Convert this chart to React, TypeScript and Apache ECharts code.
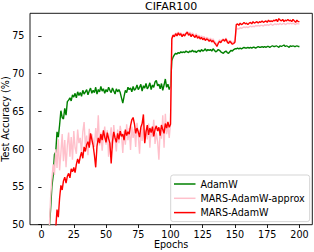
import React, { useEffect, useRef } from "react";
import * as echarts from "echarts";

const epochs: number[] = Array.from({ length: 200 }, (_, i) => i + 1);

const adamw: number[] = [
  22.0, 33.0, 40.0, 44.5, 47.5, 49.5, 52.0, 55.0, 56.5, 59.3,
  59.6, 62.3, 61.6, 63.2, 65.1, 64.2, 64.0, 65.4, 64.5, 66.3,
  66.5, 66.8, 66.4, 67.2, 66.9, 67.4, 66.8, 67.6, 67.1, 67.5,
  67.0, 67.8, 67.3, 67.6, 67.9, 67.2, 67.7, 68.1, 67.4, 67.8,
  67.5, 68.2, 67.3, 67.9, 67.6, 68.3, 67.7, 68.0, 67.4, 67.9,
  67.6, 68.2, 67.8, 67.5, 68.1, 67.7, 67.3, 68.0, 67.6, 67.9,
  67.5, 66.8, 66.1, 67.0, 67.8, 67.5, 68.2, 67.9, 68.1, 67.6,
  68.3, 67.8, 68.0, 68.5, 67.9, 68.2, 68.6, 67.7, 68.4, 68.1,
  68.7, 68.0, 68.3, 68.8, 67.9, 68.5, 68.2, 68.9, 69.1, 68.4,
  68.6, 68.0, 68.7, 67.8, 68.5, 69.3, 68.2, 68.6, 67.9, 68.3,
  71.7, 72.2, 72.5, 72.7, 72.6, 72.8, 72.7, 72.9, 72.8, 72.9,
  72.8, 73.0, 72.9, 72.8, 73.0, 72.9, 73.1, 72.9, 73.0, 72.8,
  73.0, 73.1, 72.9, 73.2, 73.0, 73.1, 73.3, 73.0, 73.2, 73.1,
  73.2, 73.0, 73.3, 73.1, 72.9, 73.0, 73.2, 73.1, 72.9, 72.8,
  72.7, 72.9, 73.0, 72.8, 72.7, 72.9, 73.1, 73.0, 73.2, 73.3,
  73.3, 73.4, 73.3, 73.4, 73.3, 73.4, 73.5, 73.4, 73.4, 73.5,
  73.4, 73.5, 73.4, 73.5, 73.5, 73.4, 73.5, 73.6, 73.5, 73.5,
  73.6, 73.5, 73.6, 73.5, 73.6, 73.6, 73.5, 73.6, 73.7, 73.6,
  73.6, 73.7, 73.6, 73.5, 73.7, 73.6, 73.7, 73.8, 73.6, 73.7,
  73.6, 73.5, 73.7, 73.6, 73.7, 73.6, 73.6, 73.7, 73.6, 73.6,
];

const marsApprox: number[] = [
  25.0, 33.0, 39.0, 43.0, 46.5, 49.5, 53.5, 56.0, 58.0, 56.6,
  60.0, 57.5, 61.3, 57.2, 59.5, 62.0, 58.4, 61.2, 57.6, 60.5,
  62.2, 59.0, 61.6, 58.6, 62.4, 60.2, 59.4, 62.6, 60.8, 61.5,
  59.6, 62.3, 63.6, 60.4, 61.8, 59.2, 62.7, 60.6, 62.0, 61.2,
  60.3, 62.8, 61.0, 64.5, 60.5, 62.2, 59.8, 61.7, 63.0, 60.6,
  62.5, 59.0, 61.6, 62.9, 60.1, 63.2, 61.4, 59.7, 62.6, 60.8,
  63.1, 61.9, 59.5, 62.4, 60.6, 63.3, 61.2, 62.8, 59.9, 63.0,
  61.5, 62.7, 60.3, 63.5, 61.8, 59.4, 62.9, 61.1, 63.7, 60.9,
  62.5, 61.3, 63.4, 60.2, 62.7, 61.6, 63.9, 60.7, 62.2, 61.0,
  58.6, 62.8, 61.4, 64.5, 60.2, 64.7, 62.0, 63.1, 61.5, 63.4,
  74.8, 75.2, 75.0, 75.4, 75.2, 75.5, 75.3, 75.4, 75.1, 75.3,
  75.2, 75.4, 75.6, 75.3, 75.5, 75.2, 75.4, 75.2, 75.0, 75.3,
  74.9, 75.1, 74.8, 75.0, 74.8, 74.9, 74.6, 74.8, 74.7, 74.5,
  74.7, 74.4, 74.6, 74.3, 74.1, 73.9, 74.2, 74.5, 74.3, 74.5,
  74.6, 74.4, 74.7, 74.4, 74.2, 74.4, 74.3, 74.1, 74.2, 74.5,
  75.8, 76.0, 75.9, 76.1, 76.0, 76.1, 76.2, 76.1, 76.2, 76.1,
  76.2, 76.3, 76.2, 76.3, 76.2, 76.4, 76.3, 76.4, 76.3, 76.4,
  76.4, 76.3, 76.5, 76.4, 76.5, 76.4, 76.5, 76.6, 76.4, 76.5,
  76.6, 76.5, 76.6, 76.5, 76.7, 76.5, 76.6, 76.7, 76.5, 76.6,
  76.7, 76.6, 76.7, 76.6, 76.7, 76.6, 76.5, 76.7, 76.6, 76.6,
];

const marsAdamw: number[] = [
  15.0, 22.0, 28.0, 33.0, 37.0, 40.0, 43.0, 45.0, 46.5, 48.0,
  49.5, 52.0, 51.0, 53.5, 55.2, 54.6, 55.8, 56.3, 55.5, 56.4,
  56.8, 56.2, 57.4, 57.0, 57.6, 56.9, 58.0, 58.7, 58.1, 59.0,
  59.6, 58.8, 60.3, 59.7, 60.6, 61.0, 60.2, 62.1, 61.3, 60.5,
  59.2, 57.6, 60.4, 61.5, 60.8, 62.0, 61.2, 62.5, 61.6, 60.9,
  62.2, 61.4, 60.8, 58.1, 61.0, 62.3, 61.5, 60.9, 62.1, 61.3,
  62.4, 61.7, 62.0, 61.2, 62.6, 61.8, 62.3, 62.0, 63.1, 63.9,
  64.2, 63.4, 62.1, 62.8, 62.3, 61.6, 62.9, 63.4, 64.6, 60.8,
  62.3, 63.2, 61.9, 62.8, 62.2, 63.0, 61.7, 62.6, 63.1, 62.4,
  62.9, 61.8, 63.2, 62.6, 62.1, 63.4, 62.8, 63.6, 62.9, 63.3,
  74.6, 75.1, 74.9, 75.3, 75.0, 75.4, 75.1, 75.3, 74.9, 75.2,
  75.0, 75.3, 75.5, 75.1, 75.3, 74.9, 75.2, 75.0, 74.8, 75.1,
  74.7, 74.9, 74.6, 74.8, 74.5, 74.7, 74.4, 74.6, 74.5, 74.3,
  74.5, 74.2, 74.4, 74.1, 73.9, 73.6, 74.0, 74.3, 74.1, 74.4,
  74.5, 74.3, 74.6, 74.2, 74.0, 74.3, 74.1, 73.9, 74.0, 74.2,
  76.5, 76.6, 76.4, 76.7, 76.5, 76.6, 76.8, 76.6, 76.7, 76.5,
  76.7, 76.8, 76.6, 76.9, 76.7, 76.8, 76.9, 76.7, 76.9, 76.8,
  77.0, 76.8, 76.9, 77.0, 76.8, 77.1, 76.9, 77.0, 76.9, 77.1,
  77.0, 77.2, 76.9, 77.3, 77.1, 77.0, 77.2, 76.9, 77.1, 77.0,
  77.2, 77.0, 77.1, 76.9, 77.2, 77.0, 76.8, 77.1, 76.9, 76.9,
];

const xTicks: number[] = [0, 25, 50, 75, 100, 125, 150, 175, 200];
const yTicks: number[] = [50, 55, 60, 65, 70, 75];

const seriesNames: string[] = ["AdamW", "MARS-AdamW-approx", "MARS-AdamW"];
const seriesColors: string[] = ["#008000", "#ffc0cb", "#ff0000"];
const seriesValues: number[][] = [adamw, marsApprox, marsAdamw];

const FONT = "DejaVu Sans";

export default function App() {
  const ref = useRef<HTMLDivElement>(null);
  useEffect(() => {
    if (!ref.current) return;
    const chart = echarts.init(ref.current, undefined, { renderer: "svg" });
    const gridLeft = 30;
    const gridRight = 312.3;
    const gridTop = 13.3;
    const gridBottom = 224.7;
    chart.setOption({
      animation: false,
      backgroundColor: "#ffffff",
      textStyle: { fontFamily: FONT },
      grid: {
        left: gridLeft,
        top: gridTop,
        width: gridRight - gridLeft,
        height: gridBottom - gridTop,
        show: true,
        borderColor: "#000000",
        borderWidth: 0.9,
        backgroundColor: "transparent",
      },
      xAxis: {
        type: "value",
        min: -8.95,
        max: 209.95,
        axisLine: { show: false },
        splitLine: { show: false },
        axisTick: {
          show: true,
          length: 3.3,
          lineStyle: { color: "#000", width: 0.9 },
          customValues: xTicks,
        },
        axisLabel: {
          customValues: xTicks,
          color: "#000",
          fontFamily: FONT,
          fontSize: 9.6,
          margin: 5,
        },
      },
      yAxis: {
        type: "value",
        min: 50,
        max: 78,
        axisLine: { show: false },
        splitLine: { show: false },
        axisTick: {
          show: true,
          length: 3.3,
          lineStyle: { color: "#000", width: 0.9 },
          customValues: yTicks,
        },
        axisLabel: {
          customValues: yTicks,
          color: "#000",
          fontFamily: FONT,
          fontSize: 9.6,
          margin: 5.6,
        },
      },
      legend: {
        data: seriesNames,
        orient: "vertical",
        left: 170.7,
        top: 175,
        icon: "rect",
        itemWidth: 21.5,
        itemHeight: 1.5,
        itemGap: 4.3,
        padding: [4, 5, 4, 3.3],
        backgroundColor: "rgba(255,255,255,0.8)",
        borderColor: "#d0d0d0",
        borderWidth: 0.9,
        borderRadius: 2.5,
        textStyle: {
          color: "#000",
          fontFamily: FONT,
          fontSize: 9.6,
          lineHeight: 10,
        },
      },
      graphic: [
        {
          type: "text",
          x: (gridLeft + gridRight) / 2,
          y: 6,
          style: {
            text: "CIFAR100",
            fill: "#000",
            font: `11px "${FONT}"`,
            textAlign: "center",
            textVerticalAlign: "middle",
          },
        },
        {
          type: "text",
          x: (gridLeft + gridRight) / 2,
          y: 244.5,
          style: {
            text: "Epochs",
            fill: "#000",
            font: `9.6px "${FONT}"`,
            textAlign: "center",
            textVerticalAlign: "middle",
          },
        },
        {
          type: "text",
          x: 5.5,
          y: (gridTop + gridBottom) / 2,
          rotation: Math.PI / 2,
          style: {
            text: "Test Accuracy (%)",
            fill: "#000",
            font: `9.6px "${FONT}"`,
            textAlign: "center",
            textVerticalAlign: "middle",
          },
        },
      ],
      series: seriesNames.map((name, i) => ({
        name,
        type: "line",
        data: epochs.map((e, j) => [e, seriesValues[i][j]]),
        symbol: "none",
        clip: true,
        color: seriesColors[i],
        itemStyle: { color: seriesColors[i] },
        lineStyle: { color: seriesColors[i], width: 1.4 },
      })),
    });
    return () => chart.dispose();
  }, []);
  return <div ref={ref} style={{ width: 314, height: 252, position: "absolute", left: 0, top: 0 }} />;
}
